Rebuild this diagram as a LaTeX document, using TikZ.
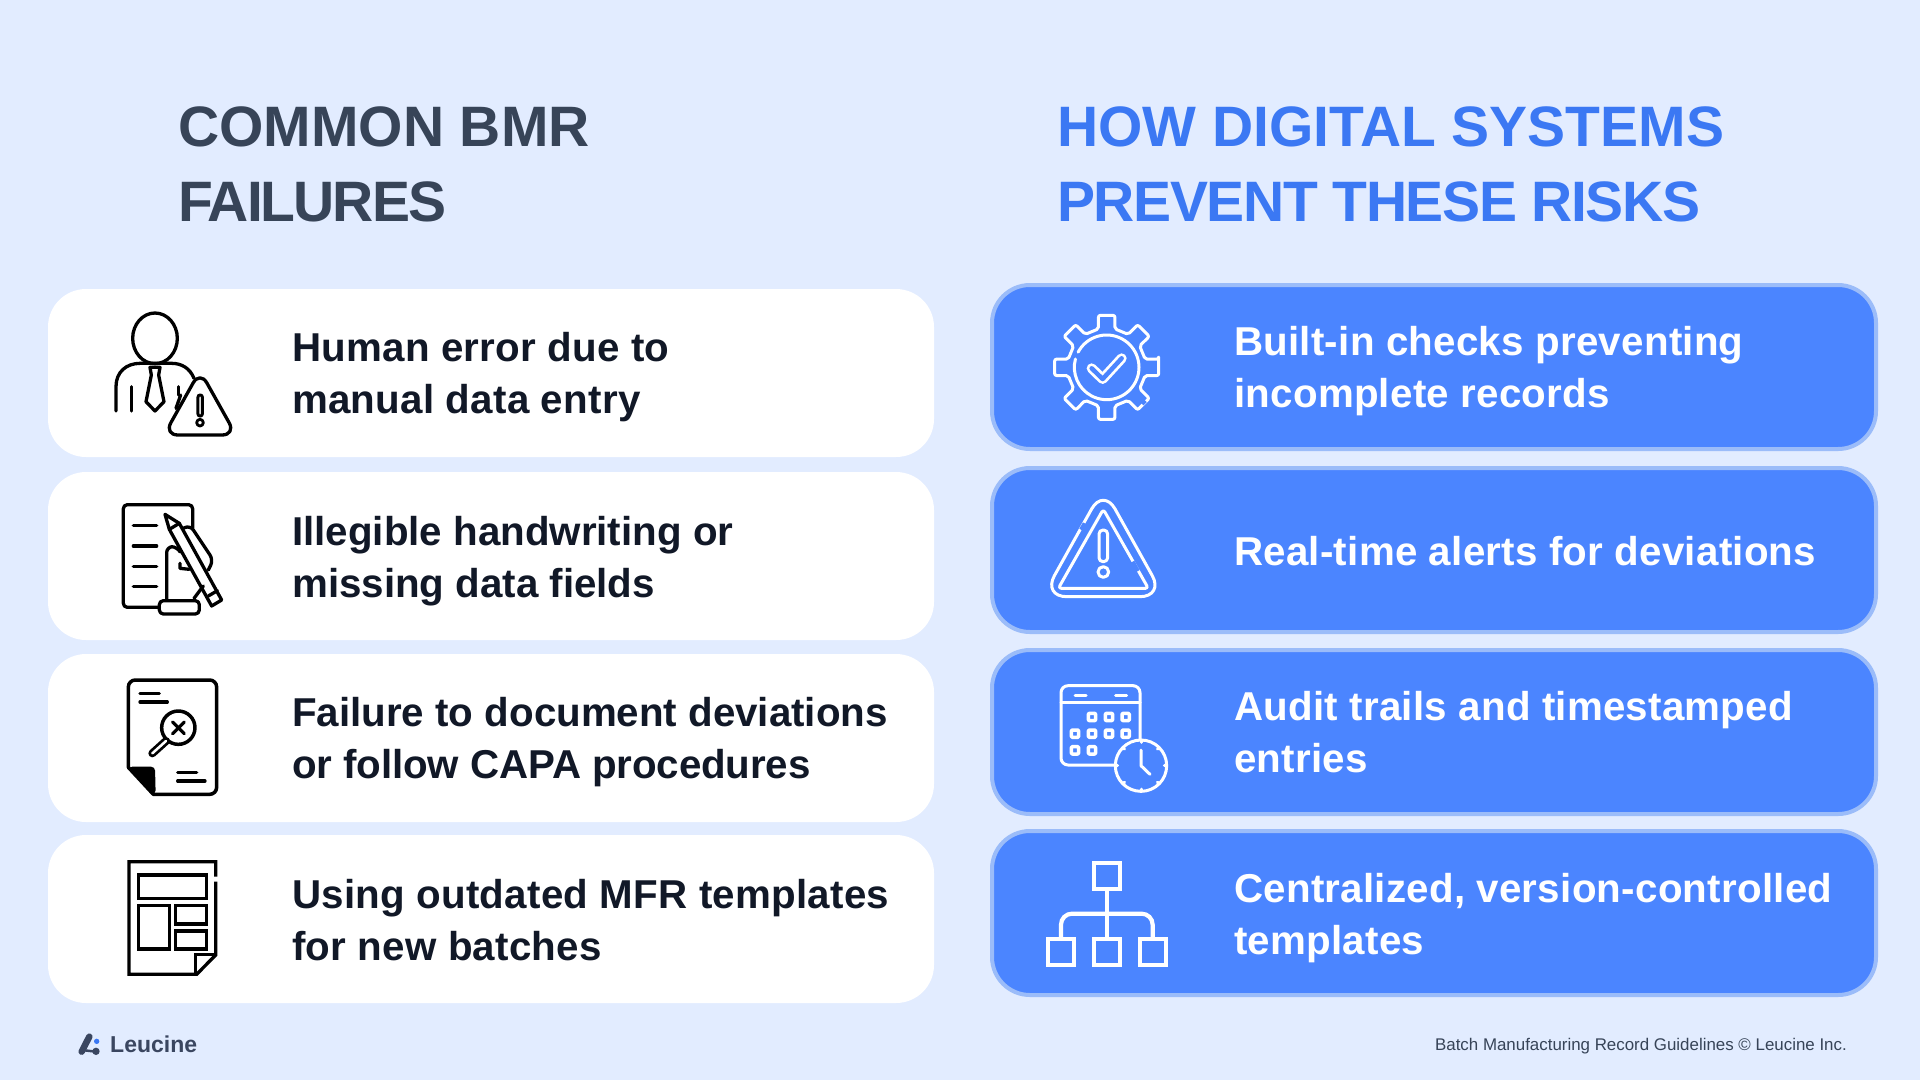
\documentclass[tikz,border=0pt]{standalone}
\usepackage{fontspec}
\setmainfont{Liberation Sans}
\definecolor{pagebg}{HTML}{E2ECFF}
\definecolor{bluecard}{HTML}{4B85FF}
\definecolor{blueedge}{HTML}{9BBCF9}
\definecolor{titledark}{HTML}{374458}
\definecolor{titleblue}{HTML}{3B78F3}
\definecolor{bodyink}{HTML}{111827}
\definecolor{logoink}{HTML}{3A4660}
\newcommand{\tightline}[2]{{\addfontfeature{LetterSpace=#1}#2}}
\tikzset{
  whitecard/.style={fill=white,draw=none},
  bluebox/.style={fill=bluecard,draw=blueedge,line width=4pt},
  titletext/.style={anchor=base west,inner sep=0pt,align=left,font=\fontsize{57}{75}\selectfont\bfseries},
  bodytext/.style={anchor=base west,inner sep=0pt,align=left,font=\fontsize{40.3}{52}\selectfont\bfseries},
  bodywide/.style={anchor=base west,inner sep=0pt,align=left,font=\fontsize{40.3}{52}\selectfont\bfseries\addfontfeature{LetterSpace=0.6}},
  icon/.style={line width=3.3pt,line cap=round,line join=round,draw=black},
  iconw/.style={line width=3pt,line cap=round,line join=round,draw=white},
  zoomed/.style={shift={#1},x=0.33333pt,y=-0.33333pt}
}
\begin{document}
\begin{tikzpicture}[x=1pt,y=-1pt]
\path[use as bounding box,fill=pagebg] (0,0) rectangle (1920,1080);
% left cards
\foreach \n/\t/\b in {a/289/457,b/472/640,c/654/822,d/835/1003}
  \fill[whitecard,rounded corners=38pt] (48,\t) rectangle (934,\b);
% right cards
\foreach \n/\t/\b in {e/285/449,f/468/632,g/650/814,h/831/995}
  \draw[bluebox,rounded corners=38pt] (992,\t) rectangle (1876,\b);
% titles
\node[titletext,text=titledark] (t1) at (178,221) {COMMON BMR\\\tightline{-3.5}{FAILURES}};
\node[titletext,text=titleblue] (t2) at (1057,221) {HOW DIGITAL SYSTEMS\\\tightline{-2.4}{PREVENT THESE RISKS}};
% body
\node[bodywide,text=bodyink] (l1) at (292,413) {Human error due to\\manual data entry};
\node[bodytext,text=bodyink] (l2) at (292,597) {Illegible handwriting or\\missing data fields};
\node[bodytext,text=bodyink] (l3) at (292,778) {Failure to document deviations\\\tightline{-0.3}{or follow CAPA procedures}};
\node[bodywide,text=bodyink] (l4) at (292,960) {Using outdated MFR templates\\for new batches};
\node[bodywide,text=white] (r1) at (1234,407) {Built-in checks preventing\\incomplete records};
\node[bodywide,text=white] (r2) at (1234,565) {Real-time alerts for deviations};
\node[bodywide,text=white] (r3) at (1234,772) {Audit trails and timestamped\\entries};
\node[bodywide,text=white] (r4) at (1234,954) {Centralized, version-controlled\\templates};
% footer
\node[anchor=base west,inner sep=0pt,text=logoink,font=\fontsize{23}{26}\selectfont\bfseries] (logo) at (110,1052) {Leucine};
\node[anchor=base east,inner sep=0pt,text=titledark,font=\fontsize{16.9}{20}\selectfont] (foot) at (1847,1050) {Batch Manufacturing Record Guidelines © Leucine Inc.};
% logo mark
\begin{scope}[zoomed={(40,650)}]
  \draw[logoink,line width=6.5pt,line cap=round] (125,1205) -- (148,1160);
  \draw[logoink,line width=2.5pt] (125,1200) -- (168,1205);
  \fill[logoink] (168,1204) circle[radius=11];
  \fill[titleblue] (170,1174) circle[radius=8];
\end{scope}
% icon 1
\begin{scope}[zoomed={(40,280)},icon]
  \draw (345,175) ellipse[x radius=67,y radius=76];
  \draw (228,393) -- (228,320) .. controls (228,275) and (260,250) .. (300,250) -- (395,250) .. controls (425,250) and (450,265) .. (462,295);
  \draw (275,320) -- (275,393);
  \draw (415,320) -- (415,345);
  \draw (408,385) -- (422,345);
  \draw (330,262) -- (360,262) -- (356,285) -- (372,365) -- (345,393) -- (318,365) -- (334,285) -- cycle;
  \draw[fill=white,rounded corners=14pt] (480,272) -- (588,465) -- (372,465) -- cycle;
  \draw[line width=3pt,rounded corners=2pt] (474,345) rectangle (487,408);
  \draw[line width=2.8pt] (480,428) circle[radius=10];
\end{scope}
% icon 2
\begin{scope}[zoomed={(40,280)},icon]
  \draw[rounded corners=4pt] (358,982) -- (250,982) -- (250,674) -- (458,674) -- (458,745);
  \foreach \y in {737,798,859,920} \draw (280,\y) -- (350,\y);
  \draw (375,703) -- (418,730) -- (545,960) -- (515,978) -- (388,748) -- cycle;
  \draw (388,748) -- (418,730);
  \draw (505,948) -- (532,932);
  \draw[rounded corners=6pt] (380,962) -- (380,800) -- (412,800) -- (420,815);
  \draw[rounded corners=6pt] (430,745) -- (450,735) -- (520,840) -- (505,870);
  \draw (420,850) -- (420,865) -- (448,868);
  \draw (462,955) -- (490,918);
  \draw[rounded corners=4pt,fill=white] (358,962) rectangle (478,1002);
\end{scope}
% icon 3
\begin{scope}[zoomed={(40,650)},icon]
  \draw[line width=3.5pt,rounded corners=7pt] (265,352) -- (265,90) -- (530,90) -- (530,433) -- (340,433);
  \draw[line width=3.5pt] (265,352) -- (340,433);
  \fill[black,rounded corners=4pt] (265,350) -- (345,350) -- (347,433) -- (338,433) -- cycle;
  \draw (300,130) -- (358,130);
  \draw (300,156) -- (382,156);
  \draw (413,368) -- (470,368);
  \draw (413,393) -- (495,393);
  \draw[line width=3.5pt] (415,233) circle[radius=50];
  \draw (398,216) -- (433,251);
  \draw (433,216) -- (398,251);
  \draw[line width=8pt] (378,273) -- (337,310);
  \draw[white,line width=2.5pt] (378,273) -- (337,310);
\end{scope}
% icon 4
\begin{scope}[zoomed={(40,650)},icon,line cap=butt,line join=miter]
  \draw (527,680) -- (527,635) -- (267,635) -- (267,973) -- (470,973) -- (527,915) -- (527,695);
  \draw (467,973) -- (467,913) -- (527,913);
  \draw (295,675) rectangle (500,745);
  \draw (295,767) rectangle (388,897);
  \draw (407,767) rectangle (500,822);
  \draw (407,843) rectangle (500,897);
\end{scope}
% gear
\begin{scope}[zoomed={(980,280)},iconw]
  \draw[shift={(380,262)},rounded corners=2pt] (-9:158)
    \foreach \a in {0,45,...,315} { -- (\a-9:158) -- (\a+9:158) -- (\a+12:118) -- (\a+33:118) } -- cycle;
  \draw[shift={(380,262)}] (208:97) arc[start angle=208,end angle=555,radius=97];
  \draw[line width=10pt] (335,265) -- (368,297) -- (425,235);
  \draw[bluecard,line width=4.5pt] (335,265) -- (368,297) -- (425,235);
  \draw[bluecard,line width=4pt,line cap=butt] (486,372) -- (496,362);
\end{scope}
% warning triangle
\begin{scope}[zoomed={(980,280)},iconw]
  \draw[rounded corners=24pt] (370,624) -- (552,950) -- (188,950) -- cycle;
  \draw[rounded corners=3pt] (370,688) -- (505,925) -- (235,925) -- cycle;
  \draw[bluecard,line width=4pt,line cap=butt] (303,749) -- (314,730);
  \draw[bluecard,line width=4pt,line cap=butt] (458,845) -- (474,873);
  \draw[rounded corners=4pt] (357,750) rectangle (383,845);
  \draw (370,876) circle[radius=16];
\end{scope}
% calendar
\begin{scope}[zoomed={(980,650)},iconw]
  \draw[rounded corners=7pt] (243,107) rectangle (480,345);
  \draw (243,158) -- (480,158);
  \draw (285,135) -- (318,135);
  \draw (407,135) -- (440,135);
  \foreach \p in {(336,201),(387,201),(437,201),(285,251),(336,251),(387,251),(437,251),(285,301),(336,301)}
    \draw[line width=3.5pt,rounded corners=1pt,shift={\p}] (-11,-11) rectangle (11,11);
  \draw[fill=bluecard] (483,347) circle[radius=77];
  \draw (483,300) -- (483,347) -- (510,373);
  \foreach \a in {0,45,...,315} \draw[shift={(483,347)}] (\a:70) -- (\a:77);
\end{scope}
% hierarchy
\begin{scope}[zoomed={(980,650)},iconw,line width=4.2pt,line cap=butt,line join=miter]
  \draw (342,638) rectangle (420,717);
  \draw (205,867) rectangle (283,946);
  \draw (342,867) rectangle (420,946);
  \draw (479,867) rectangle (557,946);
  \draw (381,717) -- (381,867);
  \draw[rounded corners=11pt] (243,867) -- (243,791) -- (518,791) -- (518,867);
\end{scope}
\end{tikzpicture}
\end{document}
